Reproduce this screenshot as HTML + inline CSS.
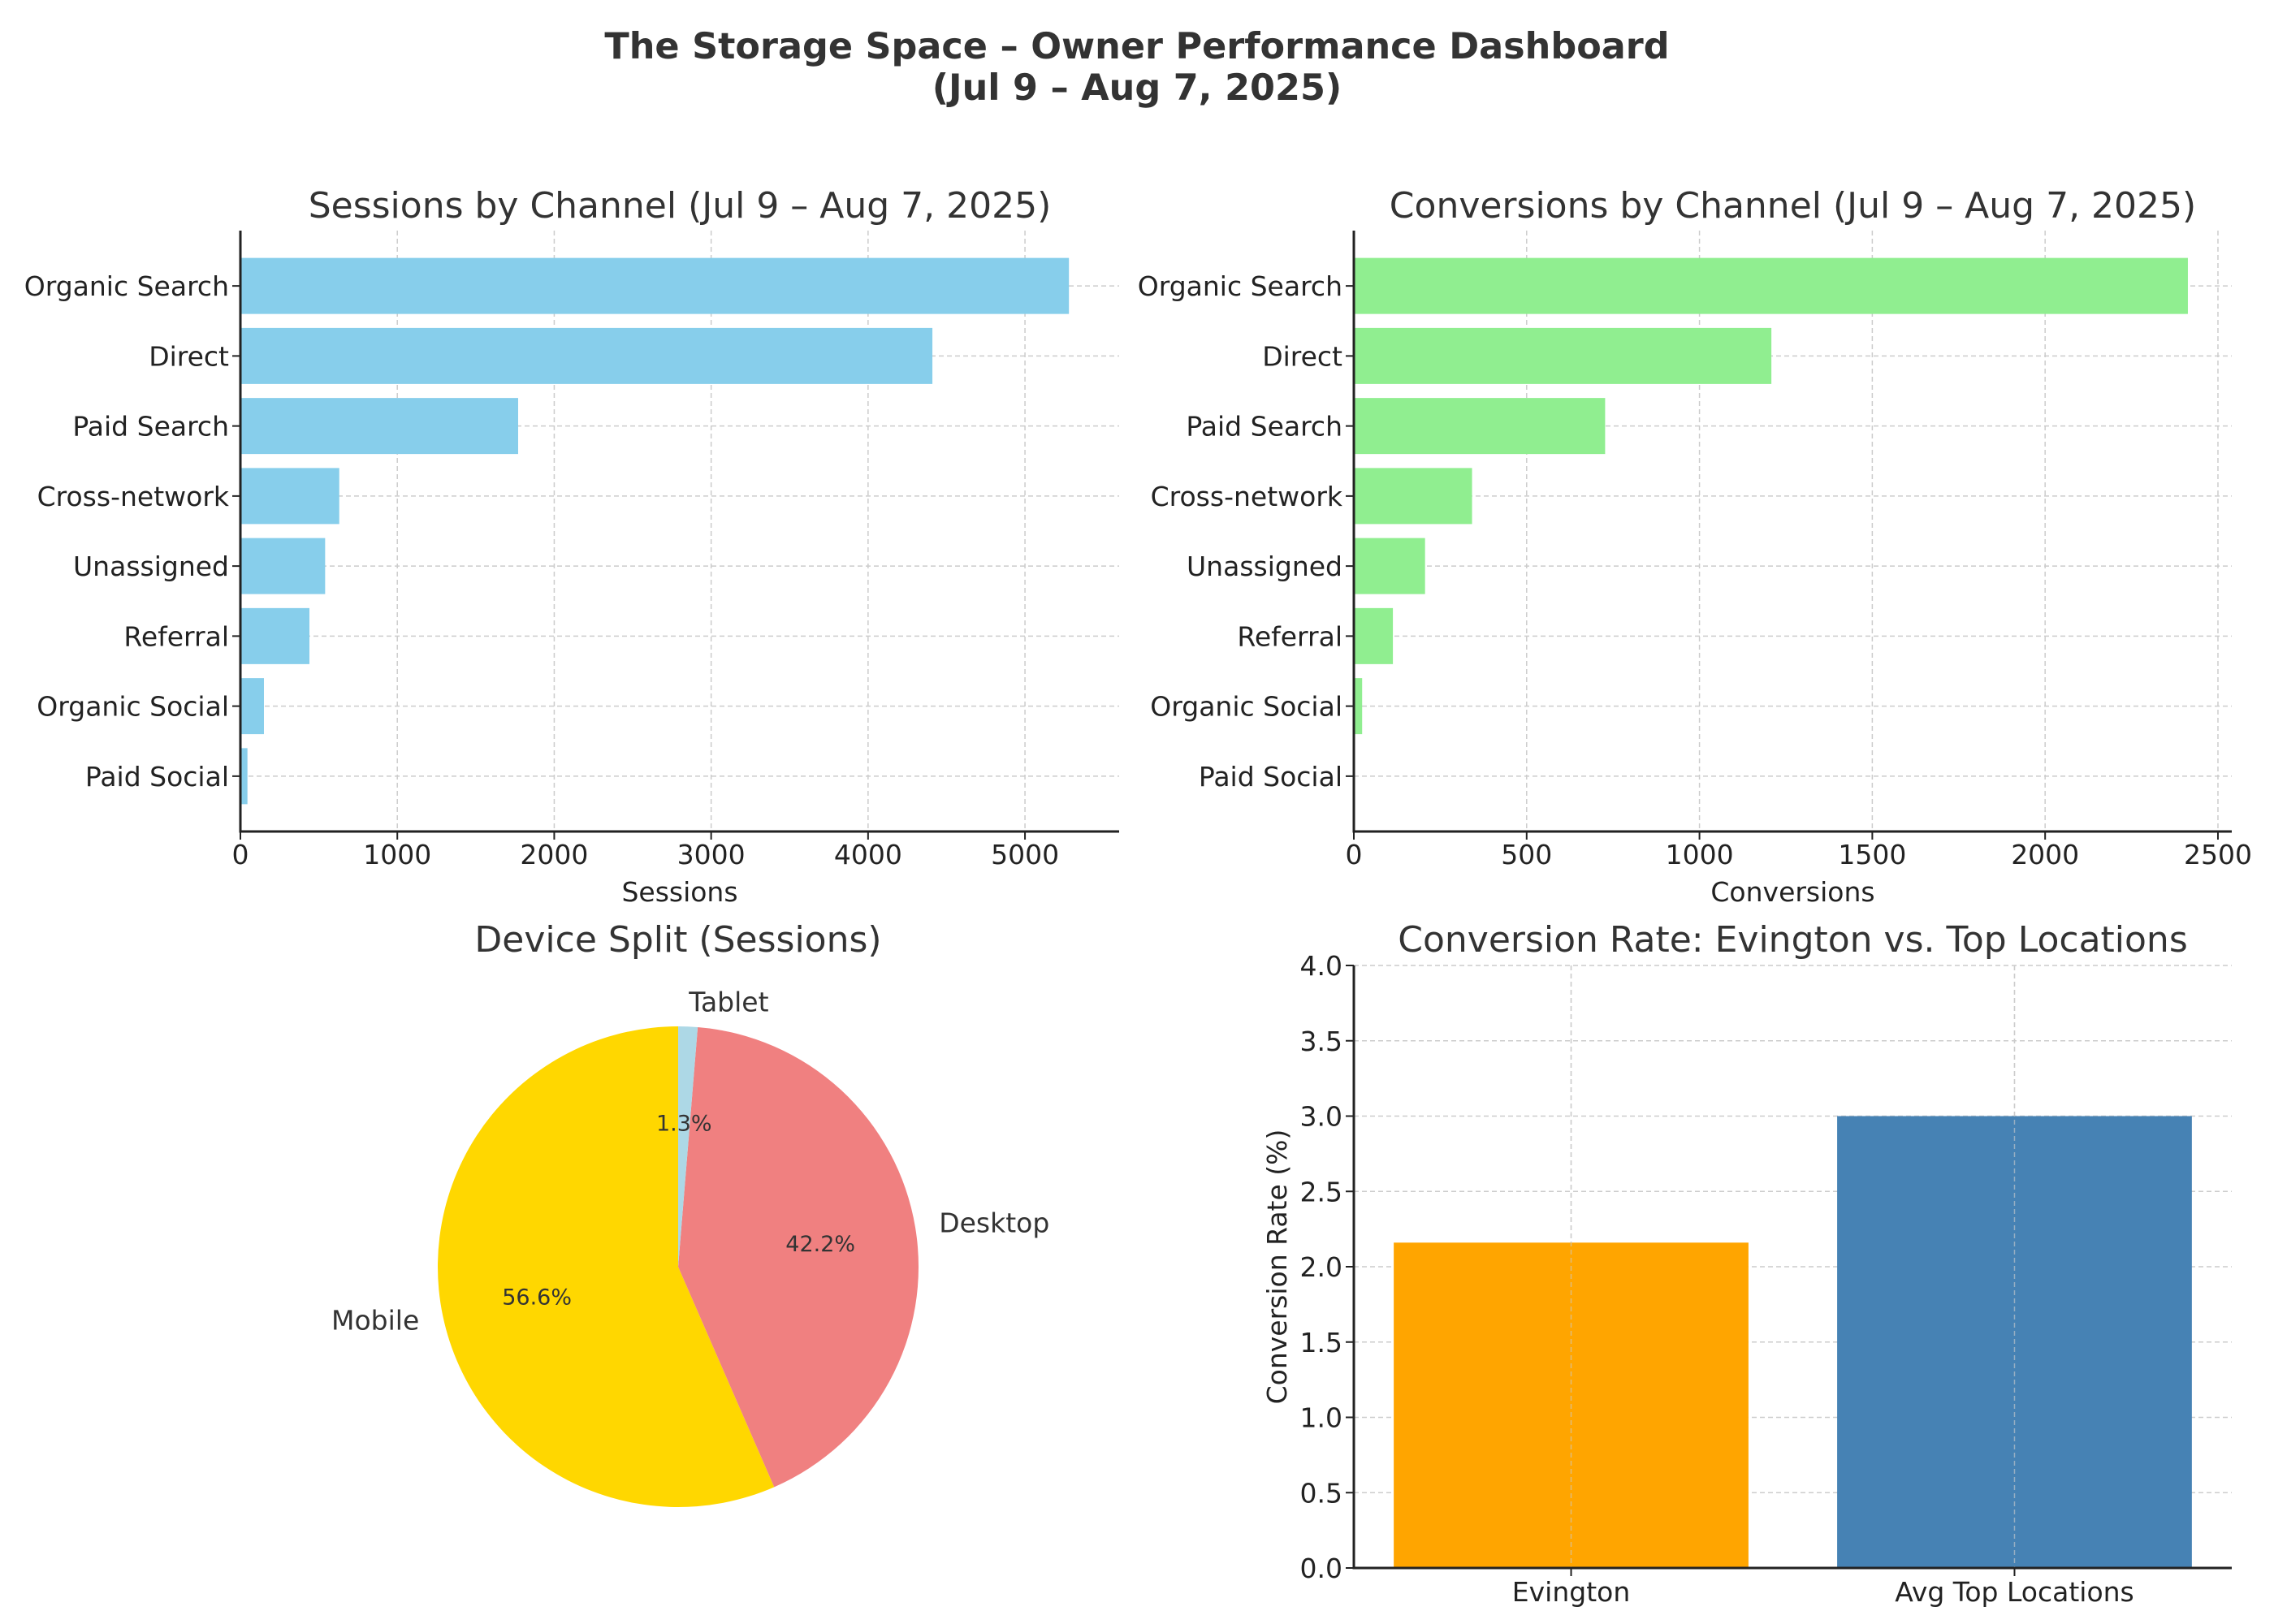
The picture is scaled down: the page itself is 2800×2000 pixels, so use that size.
<!DOCTYPE html>
<html><head><meta charset="utf-8"><style>
html,body{margin:0;padding:0;background:#fff;}
svg{display:block;font-family:"DejaVu Sans","Liberation Sans",sans-serif;}
</style></head><body>
<svg id="fig" width="2800" height="2000" viewBox="0 0 2800 2000" xmlns="http://www.w3.org/2000/svg">
<text x="1400" y="72" text-anchor="middle" font-size="44.5" font-weight="bold" fill="#333">The Storage Space – Owner Performance Dashboard</text>
<text x="1400" y="123" text-anchor="middle" font-size="44.5" font-weight="bold" fill="#333">(Jul 9 – Aug 7, 2025)</text>
<g id="p1"></g>
<g id="p2"></g>
<g id="p3"></g>
<g id="p4"></g>
</svg>
<script>
const channels = ["Organic Search","Direct","Paid Search","Cross-network","Unassigned","Referral","Organic Social","Paid Social"];
const sessions = [5280, 4410, 1770, 630, 540, 440, 150, 45];
const conversions = [2413, 1208, 727, 342, 206, 113, 24, 0];
const sessionTicks = [0,1000,2000,3000,4000,5000];
const conversionTicks = [0,500,1000,1500,2000,2500];
const devices = ["Mobile","Desktop","Tablet"];
const deviceShares = [56.6, 42.2, 1.3];
const locations = ["Evington","Avg Top Locations"];
const convRates = [2.16, 3.0];
const rateTicks = [0,0.5,1.0,1.5,2.0,2.5,3.0,3.5,4.0];

const NS="http://www.w3.org/2000/svg";
const FS=33, TFS=44;
function mk(parent,tag,attrs,text){const e=document.createElementNS(NS,tag);for(const k in attrs)e.setAttribute(k,attrs[k]);if(text!==undefined)e.textContent=text;parent.appendChild(e);return e;}

function barh(g,cats,vals,ticks,xmax,L,R,T,B,color,title,xlabel,prefix){
  const x=v=>L+(v/xmax)*(R-L);
  const n=cats.length, lo=-0.79, hi=n-1+0.79;
  const y=i=>T+((i-lo)/(hi-lo))*(B-T);
  const step=(B-T)/(hi-lo);
  ticks.forEach(t=>{
    const l=mk(g,'line',{x1:x(t),x2:x(t),y1:T,y2:B,stroke:'#ccc','stroke-width':1.5,'stroke-dasharray':'6,4'});
    
  });
  cats.forEach((c,i)=>{
    const l=mk(g,'line',{x1:L,x2:R,y1:y(i),y2:y(i),stroke:'#ccc','stroke-width':1.5,'stroke-dasharray':'6,4'});
    
  });
  cats.forEach((c,i)=>{
    const r=mk(g,'rect',{x:L,y:y(i)-step*0.4,width:Math.max(0,x(vals[i])-L),height:step*0.8,fill:color});
    
    const tk=mk(g,'line',{x1:L-10,x2:L,y1:y(i),y2:y(i),stroke:'#222','stroke-width':2});
    
    const t=mk(g,'text',{x:L-14,y:y(i)+12,'text-anchor':'end','font-size':FS,fill:'#222'},c);
    
  });
  ticks.forEach(tv=>{
    const tk=mk(g,'line',{x1:x(tv),x2:x(tv),y1:B,y2:B+10,stroke:'#222','stroke-width':2});
    
    const t=mk(g,'text',{x:x(tv),y:B+40,'text-anchor':'middle','font-size':FS,fill:'#222'},String(tv));
    
  });
  const a1=mk(g,'line',{x1:L,x2:L,y1:T,y2:B+1.5,stroke:'#222','stroke-width':3});
  
  const a2=mk(g,'line',{x1:L-1.5,x2:R,y1:B,y2:B,stroke:'#222','stroke-width':3});
  
  const tt=mk(g,'text',{x:(L+R)/2,y:T-16,'text-anchor':'middle','font-size':TFS,fill:'#333'},title);
  
  const xl=mk(g,'text',{x:(L+R)/2,y:B+86,'text-anchor':'middle','font-size':FS,fill:'#222'},xlabel);
  
}
barh(document.getElementById('p1'),channels,sessions,sessionTicks,5600,296,1378,284,1024,'#87CEEB','Sessions by Channel (Jul 9 – Aug 7, 2025)','Sessions','sessions');
barh(document.getElementById('p2'),channels,conversions,conversionTicks,2540,1667,2748,284,1024,'#90EE90','Conversions by Channel (Jul 9 – Aug 7, 2025)','Conversions','conversions');

// pie
(function(){
  const g=document.getElementById('p3');
  const cx=835,cy=1560,r=296;
  const colors=['#FFD700','#F08080','#ADD8E6'];
  const total=deviceShares.reduce((a,b)=>a+b,0);
  let a=90;
  const pt=(deg,rr)=>[cx+rr*Math.cos(deg*Math.PI/180),cy-rr*Math.sin(deg*Math.PI/180)];
  deviceShares.forEach((v,i)=>{
    const sweep=v/total*360, a2=a+sweep;
    const p1=pt(a,r),p2=pt(a2,r);
    const d=`M${cx},${cy} L${p1[0]},${p1[1]} A${r},${r} 0 ${sweep>180?1:0} 0 ${p2[0]},${p2[1]} Z`;
    const w=mk(g,'path',{d:d,fill:colors[i]});
    
    const mid=(a+a2)/2;
    const lp=pt(mid,r*1.1);
    const c=Math.cos(mid*Math.PI/180);
    const lab=mk(g,'text',{x:lp[0],y:lp[1]+11,'text-anchor':c>0.01?'start':(c<-0.01?'end':'middle'),'font-size':FS,fill:'#333'},devices[i]);
    
    const pp=pt(mid,r*0.6);
    const pl=mk(g,'text',{x:pp[0],y:pp[1]+10,'text-anchor':'middle','font-size':27,fill:'#333'},v.toFixed(1)+'%');
    
    a=a2;
  });
  const t=mk(g,'text',{x:cx,y:1172,'text-anchor':'middle','font-size':TFS,fill:'#333'},'Device Split (Sessions)');
  
})();

// conversion rate bars
(function(){
  const g=document.getElementById('p4');
  const L=1667,R=2748,T=1189,B=1931;
  const lo=-0.49,hi=locations.length-1+0.49;
  const x=i=>L+(i-lo)/(hi-lo)*(R-L);
  const step=(R-L)/(hi-lo);
  const y=v=>B-(v/4)*(B-T);
  const colors=['#FFA500','#4682B4'];
  rateTicks.forEach(tv=>{
    const l=mk(g,'line',{x1:L,x2:R,y1:y(tv),y2:y(tv),stroke:'#ccc','stroke-width':1.5,'stroke-dasharray':'6,4'});
    
  });
  locations.forEach((c,i)=>{
    const l=mk(g,'line',{x1:x(i),x2:x(i),y1:T,y2:B,stroke:'#ccc','stroke-width':1.5,'stroke-dasharray':'6,4'});
    
  });
  locations.forEach((c,i)=>{
    const r=mk(g,'rect',{x:x(i)-step*0.4,y:y(convRates[i]),width:step*0.8,height:B-y(convRates[i]),fill:colors[i]});
    
    const l=mk(g,'line',{x1:x(i),x2:x(i),y1:T,y2:B,stroke:'#ccc','stroke-width':1.5,'stroke-dasharray':'6,4','stroke-opacity':0.6});
    
    const tk=mk(g,'line',{x1:x(i),x2:x(i),y1:B,y2:B+10,stroke:'#222','stroke-width':2});
    
    const t=mk(g,'text',{x:x(i),y:B+41,'text-anchor':'middle','font-size':FS,fill:'#222'},c);
    
  });
  rateTicks.forEach(tv=>{
    const tk=mk(g,'line',{x1:L-10,x2:L,y1:y(tv),y2:y(tv),stroke:'#222','stroke-width':2});
    
    const t=mk(g,'text',{x:L-14,y:y(tv)+12,'text-anchor':'end','font-size':FS,fill:'#222'},tv.toFixed(1));
    
  });
  const a1=mk(g,'line',{x1:L,x2:L,y1:T,y2:B+1.5,stroke:'#222','stroke-width':3});
  
  const a2=mk(g,'line',{x1:L-1.5,x2:R,y1:B,y2:B,stroke:'#222','stroke-width':3});
  
  const tt=mk(g,'text',{x:(L+R)/2,y:1172,'text-anchor':'middle','font-size':TFS,fill:'#333'},'Conversion Rate: Evington vs. Top Locations');
  
  const yl=mk(g,'text',{x:1584,y:(T+B)/2,'text-anchor':'middle','font-size':FS,fill:'#222',transform:`rotate(-90 1584 ${(T+B)/2})`},'Conversion Rate (%)');
  
})();
</script>
</body></html>
